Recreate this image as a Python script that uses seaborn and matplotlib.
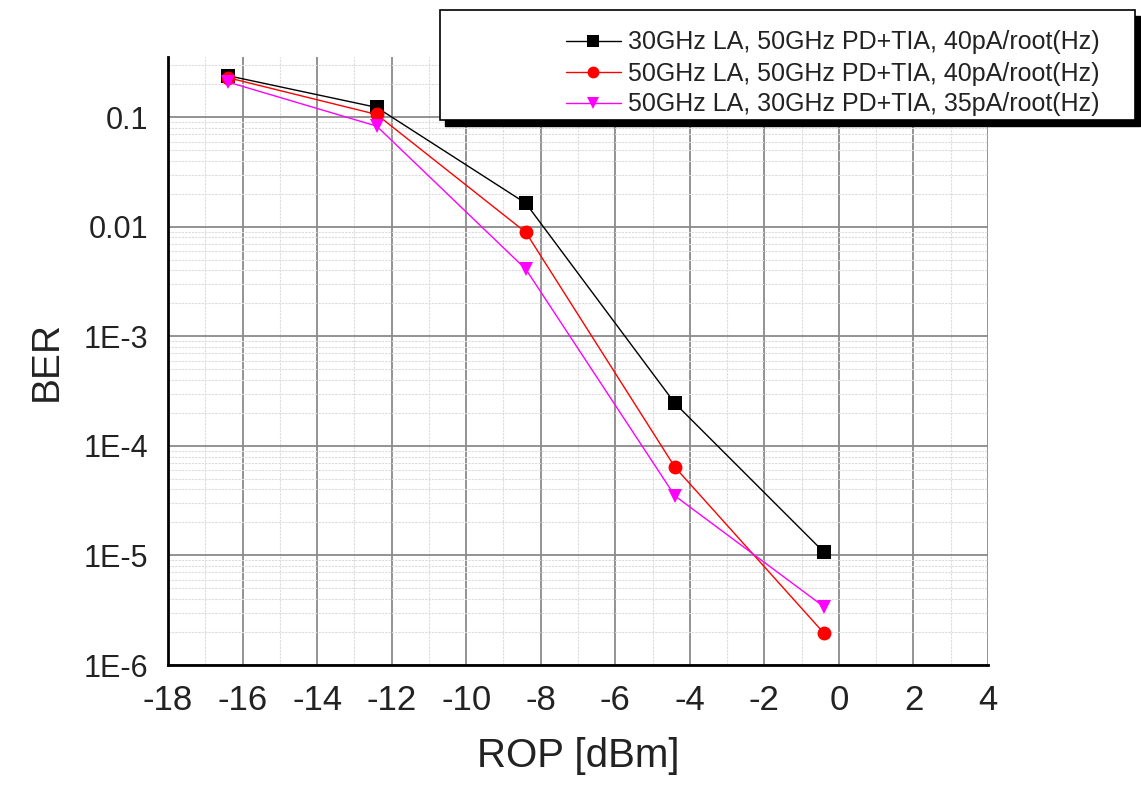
import numpy as np
import pandas as pd
import matplotlib
matplotlib.use("Agg")
import matplotlib.pyplot as plt
import matplotlib.ticker as mticker
from matplotlib.patches import Rectangle
import seaborn as sns

# Dati
rop = [-16.4, -12.4, -8.4, -4.4, -0.4]
ber_30la_50pd = [0.24, 0.123, 0.0164, 2.45e-4, 1.07e-5]
ber_50la_50pd = [0.23, 0.106, 0.0089, 6.4e-5, 1.95e-6]
ber_50la_30pd = [0.21, 0.083, 0.0041, 3.5e-5, 3.4e-6]
etichette = ["30GHz LA, 50GHz PD+TIA, 40pA/root(Hz)",
             "50GHz LA, 50GHz PD+TIA, 40pA/root(Hz)",
             "50GHz LA, 30GHz PD+TIA, 35pA/root(Hz)"]
colori = ["black", "red", "magenta"]
marcatori = ["s", "o", "v"]
yticks = [1e-6, 1e-5, 1e-4, 1e-3, 0.01, 0.1]
ytick_labels = ["1E-6", "1E-5", "1E-4", "1E-3", "0.01", "0.1"]

sns.set_style("white")
plt.rcParams['font.family'] = ['Liberation Sans', 'DejaVu Sans']
plt.rcParams['axes.unicode_minus'] = False

df = pd.concat([
    pd.DataFrame({"ROP": rop, "BER": ber, "serie": lab})
    for ber, lab in zip([ber_30la_50pd, ber_50la_50pd, ber_50la_30pd], etichette)
])

fig = plt.figure(figsize=(11.41, 7.88), dpi=100)
ax = fig.add_axes([168/1141, 1-665/788, (988-168)/1141, (665-57)/788])

sns.lineplot(data=df, x="ROP", y="BER", hue="serie", style="serie",
             palette=dict(zip(etichette, colori)),
             markers=dict(zip(etichette, marcatori)), dashes=False,
             markersize=10, markeredgewidth=0, linewidth=1.0,
             legend=False, ax=ax)

ax.set_yscale("log")
ax.set_xlim(-18, 4)
ax.set_ylim(1e-6, 10**-0.45)
ax.xaxis.set_major_locator(mticker.MultipleLocator(2))
ax.xaxis.set_minor_locator(mticker.MultipleLocator(1))
ax.yaxis.set_major_locator(mticker.FixedLocator(yticks))
ax.yaxis.set_major_formatter(mticker.FixedFormatter(ytick_labels))
ax.yaxis.set_minor_locator(mticker.LogLocator(base=10, subs=np.arange(2, 10)))
ax.yaxis.set_minor_formatter(mticker.NullFormatter())

ax.grid(which="major", color="#8a8a8a", linewidth=1.3)
ax.grid(which="minor", color="#dcdcdc", linewidth=0.8, linestyle=(0, (2, 1)))
ax.set_axisbelow(True)

for s in ["top", "right"]:
    ax.spines[s].set_visible(False)
for s in ["left", "bottom"]:
    ax.spines[s].set_color("black")
    ax.spines[s].set_linewidth(2)

ax.tick_params(axis="both", which="major", direction="out", length=8, width=1.5, color="black")
ax.tick_params(axis="both", which="minor", direction="out", length=4, width=1.2, color="black")
ax.tick_params(axis="x", which="major", labelsize=25, pad=6)
ax.tick_params(axis="y", which="major", labelsize=22, pad=6)
for t in ax.get_xticklabels() + ax.get_yticklabels():
    t.set_color("#222222")

ax.set_xlabel("ROP [dBm]", fontsize=29, color="#222222", labelpad=14)
ax.set_ylabel("BER", fontsize=28, color="#222222", labelpad=14)

# Riquadro della legenda con ombra
x0, y0 = 440/1141, 1-120/788
w, h = (1135-440)/1141, 110/788
fig.add_artist(Rectangle((x0 + 5/1141, y0 - 6/788), w, h, transform=fig.transFigure,
                         facecolor="black", edgecolor="black", zorder=3))
fig.add_artist(Rectangle((x0, y0), w, h, transform=fig.transFigure,
                         facecolor="white", edgecolor="black", linewidth=1.2, zorder=3.1))

leg = fig.legend(handles=ax.lines[:3], labels=etichette, loc="upper left",
                 bbox_to_anchor=(553/1141, 1-18/788), frameon=False, fontsize=18,
                 handlelength=2.2, handletextpad=0.3, labelspacing=0.28, borderpad=0,
                 markerscale=0.85)
leg.set_zorder(4)
for t in leg.get_texts():
    t.set_color("#222222")

fig.savefig("out.png", dpi=100)
